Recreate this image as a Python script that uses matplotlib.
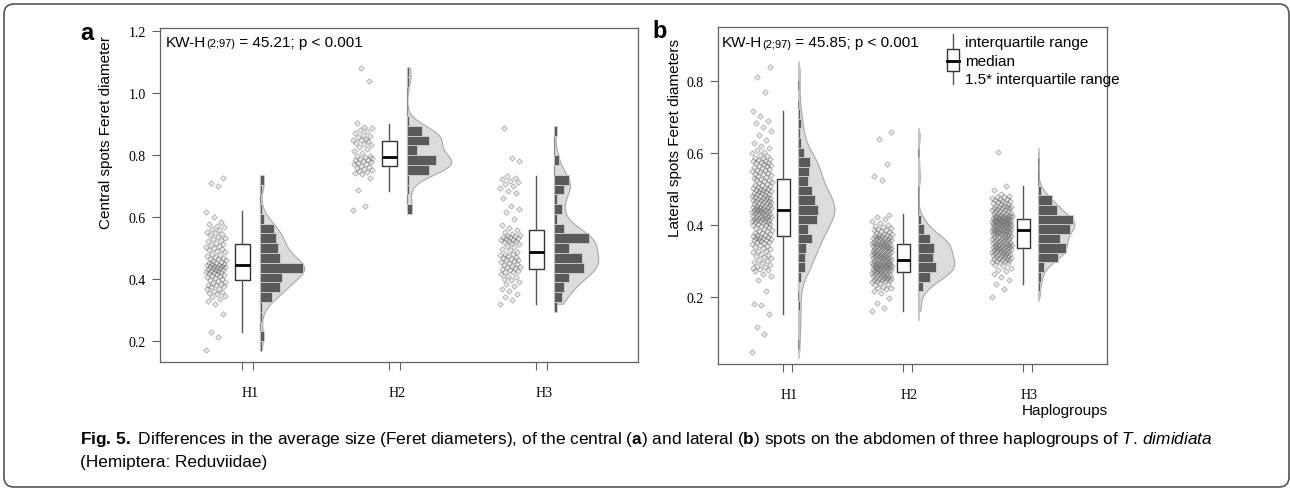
import numpy as np
import matplotlib.pyplot as plt
from matplotlib.patches import Rectangle, FancyBboxPatch
from matplotlib.transforms import IdentityTransform

plt.rcParams['font.family'] = ['Liberation Sans', 'DejaVu Sans']
plt.rcParams['mathtext.fontset'] = 'custom'
plt.rcParams['mathtext.rm'] = 'Liberation Sans'
plt.rcParams['mathtext.it'] = 'Liberation Sans:italic'
plt.rcParams['mathtext.bf'] = 'Liberation Sans:bold'

groups = ['H1', 'H2', 'H3']

# panel a - central spots Feret diameter
a_h1 = [0.171, 0.213, 0.229, 0.288, 0.318,
        0.329, 0.335, 0.341, 0.346, 0.350, 0.355,
        0.359, 0.362, 0.366, 0.369, 0.373, 0.376, 0.379, 0.382, 0.385, 0.388,
        0.391, 0.394, 0.397, 0.399, 0.402, 0.405, 0.408, 0.410, 0.413, 0.416, 0.419,
        0.421, 0.423, 0.424, 0.426, 0.427, 0.429, 0.430, 0.432, 0.434, 0.435, 0.437,
        0.438, 0.440, 0.441, 0.442, 0.444, 0.445, 0.447, 0.448, 0.450, 0.451,
        0.454, 0.457, 0.460, 0.463, 0.466, 0.469, 0.472, 0.475, 0.478, 0.481,
        0.486, 0.489, 0.492, 0.496, 0.499, 0.503, 0.506, 0.510, 0.513,
        0.517, 0.521, 0.525, 0.529, 0.533, 0.537, 0.541, 0.545,
        0.549, 0.553, 0.558, 0.562, 0.567, 0.571, 0.576,
        0.585, 0.600, 0.617, 0.700, 0.710, 0.725]
a_h2 = [0.622, 0.636, 0.688, 0.725,
        0.738, 0.742, 0.745, 0.749, 0.752, 0.755, 0.759, 0.762, 0.766,
        0.770, 0.772, 0.775, 0.777, 0.780, 0.783, 0.785, 0.788, 0.791, 0.793, 0.796, 0.798,
        0.805, 0.812, 0.819, 0.826,
        0.833, 0.837, 0.840, 0.844, 0.847, 0.850, 0.853, 0.857, 0.861,
        0.866, 0.871, 0.876, 0.881, 0.886, 0.891,
        0.902, 1.040, 1.081]
a_h3 = [0.320, 0.331, 0.341, 0.351, 0.361, 0.368, 0.376, 0.384,
        0.391, 0.396, 0.401, 0.406, 0.411, 0.416,
        0.422, 0.424, 0.427, 0.429, 0.432, 0.434, 0.437, 0.439, 0.442, 0.444, 0.447, 0.450,
        0.454, 0.457, 0.460, 0.462, 0.465, 0.468, 0.471, 0.474, 0.477, 0.479, 0.482,
        0.487, 0.492, 0.497, 0.502, 0.507, 0.512,
        0.517, 0.519, 0.521, 0.523, 0.525, 0.527, 0.529, 0.531, 0.534, 0.536, 0.538,
        0.540, 0.542, 0.545,
        0.551, 0.559, 0.566, 0.574, 0.594, 0.615, 0.626, 0.636, 0.660,
        0.677, 0.685, 0.693, 0.700, 0.707, 0.712, 0.717, 0.722, 0.727, 0.731,
        0.781, 0.792, 0.888]
# whislo, q1, median, q3, whishi
a_box = [(0.229, 0.396, 0.444, 0.512, 0.620),
         (0.685, 0.763, 0.795, 0.846, 0.900),
         (0.319, 0.432, 0.488, 0.558, 0.731)]

# panel b - lateral spots Feret diameters
b_h1 = [0.049, 0.098, 0.117, 0.154, 0.178, 0.182, 0.219,
        0.249, 0.258, 0.266,
        0.272, 0.275, 0.279, 0.282, 0.285, 0.288, 0.291, 0.295,
        0.299, 0.302, 0.305, 0.308, 0.311, 0.314, 0.318, 0.321,
        0.325, 0.328, 0.330, 0.333, 0.336, 0.339, 0.342, 0.345, 0.348,
        0.351, 0.353, 0.354, 0.356, 0.358, 0.359, 0.361, 0.362, 0.364, 0.366, 0.367,
        0.369, 0.371, 0.372, 0.374, 0.376,
        0.378, 0.380, 0.383, 0.385, 0.388, 0.390, 0.392, 0.395, 0.397, 0.400, 0.402,
        0.404, 0.405, 0.407, 0.408, 0.409, 0.411, 0.412, 0.413, 0.415, 0.416, 0.417,
        0.419, 0.420, 0.421, 0.422, 0.423, 0.424, 0.425, 0.426, 0.427, 0.429,
        0.431, 0.432, 0.433, 0.434, 0.436, 0.437, 0.438, 0.439, 0.440, 0.441, 0.442,
        0.443, 0.444, 0.446, 0.447, 0.448, 0.449, 0.450, 0.451, 0.452, 0.454, 0.455,
        0.457, 0.459, 0.460, 0.461, 0.463, 0.464, 0.466, 0.467, 0.468, 0.470, 0.471,
        0.472, 0.474, 0.475, 0.477, 0.478, 0.479, 0.481, 0.482,
        0.484, 0.486, 0.487, 0.489, 0.490, 0.492, 0.494, 0.495, 0.497, 0.499, 0.500,
        0.502, 0.503, 0.505, 0.507, 0.508,
        0.511, 0.513, 0.515, 0.518, 0.520, 0.522, 0.525, 0.527, 0.530, 0.532, 0.535,
        0.538, 0.540, 0.542, 0.544, 0.546, 0.548, 0.551, 0.553, 0.555, 0.557, 0.559, 0.561,
        0.564, 0.566, 0.568, 0.570, 0.572, 0.574, 0.576, 0.578, 0.580, 0.582, 0.584,
        0.586, 0.588,
        0.592, 0.596, 0.600, 0.604, 0.609, 0.614, 0.620, 0.629, 0.638, 0.650, 0.662,
        0.674, 0.683, 0.691, 0.703, 0.718, 0.769, 0.811, 0.839]
b_h2 = [0.163, 0.171, 0.184, 0.198, 0.211,
        0.219, 0.222, 0.225, 0.227, 0.230, 0.233, 0.236, 0.239, 0.242,
        0.245, 0.246, 0.247, 0.248, 0.249, 0.251, 0.252, 0.253, 0.254, 0.255, 0.256,
        0.258, 0.259, 0.260, 0.261, 0.262, 0.263, 0.264, 0.266, 0.267, 0.268, 0.269,
        0.271, 0.272, 0.273, 0.273, 0.274, 0.275, 0.276, 0.277, 0.278, 0.279, 0.279,
        0.280, 0.281, 0.282, 0.283, 0.284, 0.284, 0.285, 0.286, 0.287, 0.288, 0.288,
        0.289, 0.290, 0.291, 0.291, 0.292, 0.293, 0.293, 0.294, 0.295, 0.295, 0.296,
        0.298, 0.299, 0.300, 0.301, 0.302, 0.303, 0.304, 0.305, 0.306, 0.307, 0.308,
        0.309, 0.310, 0.311, 0.312, 0.313, 0.313, 0.314, 0.315, 0.316, 0.317, 0.318,
        0.319, 0.320, 0.321, 0.322, 0.323,
        0.324, 0.325, 0.326, 0.327, 0.328, 0.329, 0.330, 0.331, 0.332, 0.333, 0.334,
        0.335, 0.336, 0.337, 0.338, 0.339, 0.340, 0.341, 0.342, 0.343, 0.344, 0.345,
        0.346, 0.346, 0.347, 0.348, 0.349, 0.350,
        0.351, 0.352, 0.353, 0.354, 0.355, 0.357, 0.358, 0.359, 0.360, 0.361, 0.363,
        0.364, 0.365, 0.366, 0.367, 0.369, 0.370, 0.371, 0.372, 0.373, 0.375, 0.376,
        0.378, 0.381, 0.383, 0.386, 0.388, 0.391, 0.393, 0.396, 0.398, 0.401,
        0.406, 0.411, 0.417, 0.422, 0.429,
        0.525, 0.537, 0.571, 0.639, 0.658]
b_h3 = [0.200, 0.224, 0.237, 0.247, 0.256, 0.265,
        0.273, 0.277, 0.282, 0.286, 0.290, 0.295,
        0.298, 0.299, 0.301, 0.302, 0.303, 0.305, 0.306, 0.307, 0.309, 0.310,
        0.311, 0.313, 0.314, 0.315, 0.317, 0.318, 0.319, 0.320, 0.321, 0.323,
        0.324, 0.325, 0.326, 0.327, 0.328, 0.329, 0.330, 0.331, 0.332, 0.333, 0.334,
        0.335, 0.336, 0.337, 0.338, 0.339, 0.340, 0.341, 0.342, 0.343, 0.344, 0.345,
        0.346, 0.346, 0.347, 0.348, 0.349, 0.350,
        0.351, 0.352, 0.353, 0.355, 0.356, 0.357, 0.358, 0.360, 0.361, 0.362, 0.363,
        0.364, 0.366, 0.367, 0.368, 0.369, 0.370, 0.371, 0.372, 0.373, 0.375, 0.376,
        0.377, 0.378, 0.379, 0.380, 0.380, 0.381, 0.382, 0.383, 0.384, 0.385, 0.385,
        0.386, 0.387, 0.388, 0.389, 0.390, 0.390, 0.391, 0.392, 0.393, 0.394, 0.395,
        0.395, 0.396, 0.397, 0.398, 0.399, 0.400, 0.400, 0.401, 0.402, 0.403,
        0.404, 0.404, 0.405, 0.406, 0.406, 0.407, 0.408, 0.409, 0.409, 0.410, 0.411,
        0.412, 0.412, 0.413, 0.414, 0.415, 0.415, 0.416, 0.417, 0.418, 0.418, 0.419,
        0.420, 0.421, 0.421, 0.422, 0.423, 0.424, 0.424, 0.425, 0.426, 0.427, 0.427,
        0.428, 0.429,
        0.431, 0.432, 0.434, 0.435, 0.437, 0.438, 0.440, 0.441, 0.443, 0.444, 0.446,
        0.447, 0.448, 0.449, 0.450, 0.451, 0.452, 0.454, 0.455,
        0.458, 0.460, 0.462, 0.463, 0.465, 0.467, 0.469, 0.471, 0.473, 0.474, 0.476,
        0.478, 0.480, 0.482, 0.488, 0.498, 0.508, 0.603]
b_box = [(0.154, 0.371, 0.443, 0.529, 0.718),
         (0.163, 0.271, 0.304, 0.348, 0.431),
         (0.237, 0.337, 0.388, 0.419, 0.510)]


def bw_nrd0(v):
    sd = np.std(v, ddof=1)
    iqr = np.subtract(*np.percentile(v, [75, 25]))
    return 0.9 * min(sd, iqr / 1.34) * len(v) ** -0.2


def raincloud(ax, data, boxes, edges, dot_w, hist_len, off):
    for i, vals in enumerate(data):
        x = i + 1
        v = np.sort(np.asarray(vals, float))
        x0 = x + off
        # density cloud
        bw = bw_nrd0(v)
        yy = np.linspace(v.min(), v.max(), 400)
        kde = np.exp(-0.5 * ((yy[:, None] - v[None, :]) / bw) ** 2).sum(axis=1)
        kde = kde / kde.max() * 0.30
        ax.fill_betweenx(yy, x0, x0 + kde, facecolor='#dcdcdc', edgecolor='#a8a8a8',
                         lw=0.8, zorder=1)
        ax.plot([x0, x0], [v.min(), v.max()], color='#8a8a8a', lw=0.8, zorder=1.5)
        # histogram
        cnt, e = np.histogram(v, bins=edges)
        k = cnt > 0
        ax.barh(e[:-1][k], cnt[k] / cnt.max() * hist_len[i], height=np.diff(e)[k],
                left=x0, align='edge', color='#5a5a5a', edgecolor='#d0d0d0',
                lw=0.6, zorder=2)
        # jittered points
        jit = ((np.arange(len(v)) * 0.618034) % 1.0 - 0.5) * 2 * dot_w
        ax.scatter(x - 0.18 + jit, v, marker='D', s=8, facecolors=(0.6, 0.6, 0.6, 0.2),
                   edgecolors=(0.35, 0.35, 0.35, 0.45), linewidths=0.6, zorder=3)
    stats = [dict(whislo=b[0], q1=b[1], med=b[2], q3=b[3], whishi=b[4], fliers=[])
             for b in boxes]
    ax.bxp(stats, positions=[1, 2, 3], widths=0.105, patch_artist=True, showcaps=False,
           showfliers=False, manage_ticks=False,
           boxprops=dict(facecolor='white', edgecolor='#333333', lw=1),
           whiskerprops=dict(color='#555555', lw=1),
           medianprops=dict(color='black', lw=2), zorder=3)


def style(ax, yticks):
    for s in ax.spines.values():
        s.set_color('#606060')
        s.set_linewidth(0.9)
    ax.set_xticks([1, 1.07, 2, 2.07, 3, 3.07])
    ax.set_xticklabels([])
    ax.set_xticks([1.05, 2.05, 3.05], minor=True)
    ax.set_xticklabels(groups, minor=True)
    ax.tick_params(axis='x', which='minor', length=0, pad=17, labelsize=10,
                   labelfontfamily='Liberation Serif')
    ax.tick_params(axis='x', which='major', length=6, width=0.8, color='#606060')
    ax.set_yticks(yticks)
    ax.set_yticklabels(['%.1f' % t for t in yticks])
    ax.tick_params(axis='y', length=6, width=0.8, color='#606060', labelsize=10,
                   labelfontfamily='Liberation Serif', pad=4)


def kw_label(ax, x, y, stat):
    t1 = ax.text(x, y, 'KW-H', transform=ax.transAxes, fontsize=11, va='center')
    t2 = ax.annotate('(2;97)', xy=(1, 0.05), xycoords=t1, fontsize=8, va='bottom')
    ax.annotate(' = %s; p < 0.001' % stat, xy=(1, 0.5), xycoords=(t2, t1),
                fontsize=11, va='center')


fig = plt.figure(figsize=(12.9, 4.89), dpi=100)
axa = fig.add_axes([0.1240, 0.2577, 0.3705, 0.6830])
axb = fig.add_axes([0.5564, 0.2536, 0.3018, 0.6885])

raincloud(axa, [a_h1, a_h2, a_h3], a_box, np.arange(0.136, 1.12, 0.0316), 0.068,
          [0.29, 0.20, 0.24], 0.12)
raincloud(axb, [b_h1, b_h2, b_h3], b_box, np.arange(0.031, 0.87, 0.0266), 0.083,
          [0.16, 0.15, 0.29], 0.125)

axa.set_xlim(0.44, 3.69)
axa.set_ylim(0.132, 1.21)
style(axa, [0.2, 0.4, 0.6, 0.8, 1.0, 1.2])
axb.set_xlim(0.453, 3.698)
axb.set_ylim(0.015, 0.95)
style(axb, [0.2, 0.4, 0.6, 0.8])

kw_label(axa, 0.013, 0.958, '45.21')
kw_label(axb, 0.01, 0.955, '45.85')

# box legend in panel b
tr = axb.transAxes
axb.plot([0.604, 0.604], [0.832, 0.980], color='#555555', lw=1, transform=tr, zorder=4)
axb.add_patch(Rectangle((0.5886, 0.870), 0.0308, 0.0655, transform=tr, facecolor='white',
                        edgecolor='#333333', lw=1, zorder=5))
axb.plot([0.5886, 0.6194], [0.900, 0.900], color='black', lw=2, transform=tr, zorder=6)
for yy, txt in zip([0.956, 0.900, 0.846],
                   ['interquartile range', 'median', '1.5* interquartile range']):
    axb.text(0.635, yy, txt, transform=tr, fontsize=11, va='center')

fig.text(0.0822, 0.730, 'Central spots Feret diameter', rotation=90, fontsize=11,
         ha='center', va='center')
fig.text(0.523, 0.718, 'Lateral spots Feret diameters', rotation=90, fontsize=11,
         ha='center', va='center')
fig.text(0.0674, 0.9325, 'a', fontsize=17, fontweight='bold', ha='center', va='center')
fig.text(0.5116, 0.9346, 'b', fontsize=17, fontweight='bold', ha='center', va='center')
fig.text(0.859, 0.1595, 'Haplogroups', fontsize=11, ha='right', va='center')

cap_font = ['Liberation Sans Narrow', 'Liberation Sans']
fig.text(0.062, 0.102,
         r'$\mathbf{Fig.\,5.}$ Differences in the average size (Feret diameters), of the '
         r'central ($\mathbf{a}$) and lateral ($\mathbf{b}$) spots on the abdomen of three '
         r'haplogroups of $\mathit{T.\,dimidiata}$',
         fontsize=12.4, family=cap_font, va='center')
fig.text(0.062, 0.055, '(Hemiptera: Reduviidae)', fontsize=12.4, family=cap_font,
         va='center')

frame = FancyBboxPatch((4, 1), 1285, 483, boxstyle='round,pad=0,rounding_size=10',
                       transform=IdentityTransform(), fill=False, edgecolor='#555555',
                       lw=1.2)
fig.patches.append(frame)

fig.savefig('out.png', dpi=100)
